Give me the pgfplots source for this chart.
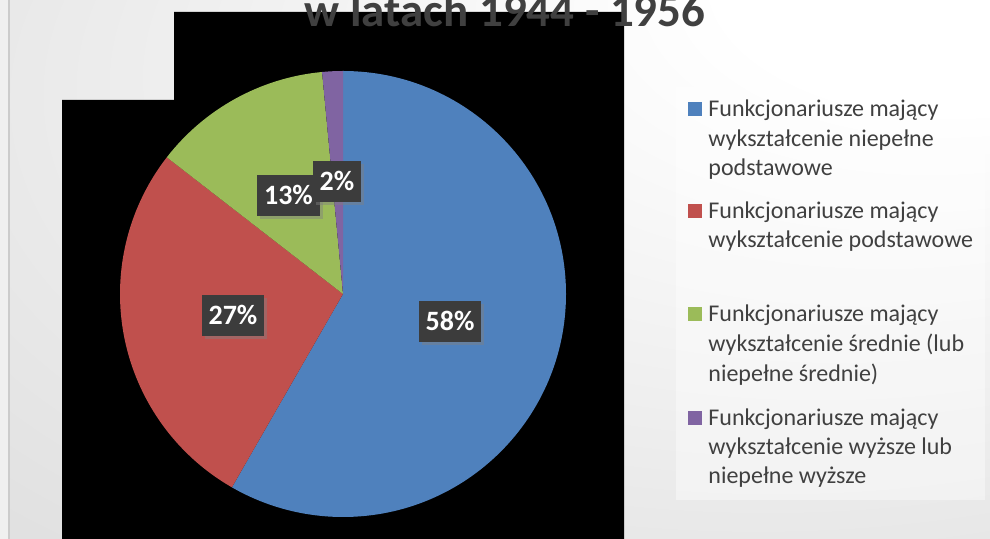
\documentclass[border=0pt]{standalone}
\usepackage{pgfplots}
\pgfplotsset{compat=1.18}
\usepackage{pgfplotstable}
\usepackage{fontspec}
\setmainfont{Carlito}
\usetikzlibrary{shadows}

\definecolor{pieblue}{HTML}{4F81BD}
\definecolor{piered}{HTML}{C0504D}
\definecolor{piegreen}{HTML}{9BBB59}
\definecolor{piepurple}{HTML}{8064A2}
\definecolor{txtgray}{HTML}{404040}
\definecolor{lblbox}{HTML}{3C3C3C}

\pgfdeclareradialshading{bgshade}{\pgfpoint{28bp}{32bp}}{color(0bp)=(white); color(12bp)=(white); color(40bp)=(black!9); color(75bp)=(black!20)}

% shares (percent) and label positions (pixel grid, y upward)
\pgfplotstableread{
share lx   ly   lbl
58.3  450  217  58
27.2  233  223  27
13.0  288.5 343 13
1.5   337  357  2
}\piedata

\pgfplotstablegetelem{0}{share}\of\piedata \pgfmathsetmacro\sA{\pgfplotsretval}
\pgfplotstablegetelem{1}{share}\of\piedata \pgfmathsetmacro\sB{\pgfplotsretval}
\pgfplotstablegetelem{2}{share}\of\piedata \pgfmathsetmacro\sC{\pgfplotsretval}
\pgfplotstablegetelem{3}{share}\of\piedata \pgfmathsetmacro\sD{\pgfplotsretval}
\pgfmathsetmacro\aZero{90}
\pgfmathsetmacro\aOne{\aZero-3.6*\sA}
\pgfmathsetmacro\aTwo{\aOne-3.6*\sB}
\pgfmathsetmacro\aThree{\aTwo-3.6*\sC}
\pgfmathsetmacro\aFour{\aThree-3.6*\sD}

\newcommand{\piewedge}[3]{\fill[#1] (axis cs:343,245) -- ++(#2:111.5pt) arc[start angle=#2, end angle=#3, radius=111.5pt] -- cycle;}
\newcommand{\legline}[2]{\node[anchor=base west, font=\fontsize{12}{14}\selectfont, text=txtgray, inner sep=0pt] at (axis cs:708,#1) {#2};}
\newcommand{\legsq}[2]{\fill[#1] (axis cs:688,#2) rectangle (axis cs:702,#2+14);}

\begin{document}
\begin{tikzpicture}
\begin{axis}[hide axis, scale only axis, width=495pt, height=269.5pt,
  xmin=0, xmax=990, ymin=0, ymax=539, at={(0,0)}, anchor=south west, clip=false]
% background
\shade[shading=bgshade] (axis cs:0,0) rectangle (axis cs:990,539);
\fill[black!6] (axis cs:0,0) rectangle (axis cs:8,539);
\draw[black!20, line width=0.6pt] (axis cs:9,0) -- (axis cs:9,539);
% black plot area shape
\fill[black] (axis cs:62,0) -- (axis cs:62,439) -- (axis cs:174,439) -- (axis cs:174,527) -- (axis cs:624,527) -- (axis cs:624,0) -- cycle;
% title (first line clipped)
\node[anchor=base, font=\bfseries\fontsize{23.5}{26}\selectfont, text=txtgray, inner sep=0pt] at (axis cs:505,512) {w latach 1944 - 1956};
% pie
\piewedge{pieblue}{\aZero}{\aOne}
\piewedge{piered}{\aOne}{\aTwo}
\piewedge{piegreen}{\aTwo}{\aThree}
\piewedge{piepurple}{\aThree}{\aFour}
% data labels
\addplot[draw=none, mark=none, forget plot, point meta=explicit symbolic,
  nodes near coords={\pgfplotspointmeta\%},
  every node near coord/.style={anchor=center, fill=lblbox, text=white,
    font=\bfseries\fontsize{14}{14}\selectfont, inner xsep=3.5pt, inner ysep=5.75pt,
    text height=9pt, text depth=0pt,
    drop shadow={shadow xshift=1.5pt, shadow yshift=-1.5pt, opacity=0.45}}]
  table[x=lx, y=ly, meta=lbl] {\piedata};
% legend
\fill[white, opacity=0.4] (axis cs:676,39) rectangle (axis cs:985,452);
\legsq{pieblue}{423}
\legline{422}{Funkcjonariusze mający}
\legline{392}{wykształcenie niepełne}
\legline{363}{podstawowe}
\legsq{piered}{321}
\legline{320}{Funkcjonariusze mający}
\legline{291}{wykształcenie podstawowe}
\legsq{piegreen}{218}
\legline{217}{Funkcjonariusze mający}
\legline{187}{wykształcenie średnie (lub}
\legline{157}{niepełne średnie)}
\legsq{piepurple}{114}
\legline{113}{Funkcjonariusze mający}
\legline{84}{wykształcenie wyższe lub}
\legline{55}{niepełne wyższe}
\end{axis}
\pgfresetboundingbox
\useasboundingbox (0,0) rectangle (495pt,269.5pt);
\end{tikzpicture}
\end{document}
